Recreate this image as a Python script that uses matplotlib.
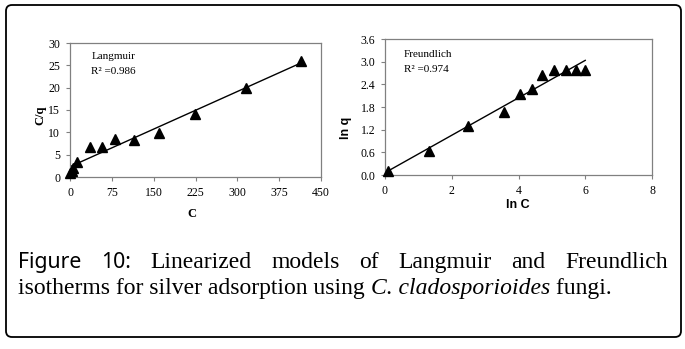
import numpy as np
import matplotlib
matplotlib.use("Agg")
import matplotlib.pyplot as plt
from matplotlib.patches import FancyBboxPatch
from matplotlib.transforms import IdentityTransform

# Langmuir: C vs C/q
lang_c = [0.5, 3, 6, 12, 36, 57, 81, 115, 159, 224, 316, 414]
lang_cq = [0.8, 1.3, 2.1, 3.3, 6.7, 6.7, 8.6, 8.2, 9.9, 14.0, 20.0, 26.0]

# Freundlich: ln C vs ln q
fr_lnc = [0.1, 1.31, 2.48, 3.58, 4.03, 4.4, 4.7, 5.06, 5.41, 5.73, 6.0]
fr_lnq = [0.1, 0.63, 1.31, 1.67, 2.15, 2.28, 2.66, 2.77, 2.77, 2.77, 2.77]

lang_xticks = [0, 75, 150, 225, 300, 375, 450]
lang_yticks = [0, 5, 10, 15, 20, 25, 30]
fr_xticks = [0, 2, 4, 6, 8]
fr_yticks = [0.0, 0.6, 1.2, 1.8, 2.4, 3.0, 3.6]

W, H = 685, 349
fig = plt.figure(figsize=(W / 100, H / 100), dpi=100)
serif = "Liberation Serif"


def px(x0, y0, x1, y1):
    # pixel box (top-left origin) -> figure fraction rect
    return [x0 / W, 1 - y1 / H, (x1 - x0) / W, (y1 - y0) / H]


def style(ax, xt, yt, xfmt, yfmt):
    for s in ax.spines.values():
        s.set_color("#808080")
        s.set_linewidth(0.9)
    ax.set_xticks(xt)
    ax.set_yticks(yt)
    ax.set_xticklabels([xfmt.format(v) for v in xt], fontfamily=serif, fontsize=8.5)
    ax.set_yticklabels([yfmt.format(v) for v in yt], fontfamily=serif, fontsize=8.5)
    ax.tick_params(direction="out", length=3, width=0.8, color="#808080", pad=4)
    ax.set_xlim(xt[0], xt[-1])
    ax.set_ylim(yt[0], yt[-1])


def fit_line(ax, x, y):
    k, b = np.polyfit(x, y, 1)
    xs = np.array([min(x), max(x)])
    ax.plot(xs, k * xs + b, color="black", lw=1.0, zorder=2)


# left panel
ax1 = fig.add_axes(px(70, 43, 321, 177))
ax1.plot(lang_c, lang_cq, "^", color="black", ms=7, zorder=3, clip_on=False)
fit_line(ax1, lang_c, lang_cq)
style(ax1, lang_xticks, lang_yticks, "{:d}", "{:d}")
ax1.text(0.085, 0.93, "Langmuir", transform=ax1.transAxes, fontfamily=serif,
         fontsize=8, va="top")
ax1.text(0.085, 0.82, "R² =0.986", transform=ax1.transAxes, fontfamily=serif,
         fontsize=8, va="top")
fig.text(192 / W, 1 - 214 / H, "C", fontfamily=serif, fontweight="bold",
         fontsize=9, ha="center", va="center")
fig.text(40 / W, 1 - 115 / H, "C/q", fontfamily=serif, fontweight="bold",
         fontsize=9, ha="center", va="center", rotation=90)

# right panel
ax2 = fig.add_axes(px(385, 39, 652, 175))
ax2.plot(fr_lnc, fr_lnq, "^", color="black", ms=7, zorder=3, clip_on=False)
fit_line(ax2, fr_lnc, fr_lnq)
style(ax2, fr_xticks, fr_yticks, "{:d}", "{:.1f}")
ax2.text(0.07, 0.92, "Freundlich", transform=ax2.transAxes, fontfamily=serif,
         fontsize=8, va="top")
ax2.text(0.07, 0.81, "R² =0.974", transform=ax2.transAxes, fontfamily=serif,
         fontsize=8, va="top")
fig.text(518 / W, 1 - 205 / H, "ln C", fontfamily="Liberation Sans",
         fontweight="bold", fontsize=9, ha="center", va="center")
fig.text(346 / W, 1 - 128 / H, "ln q", fontfamily="Liberation Sans",
         fontweight="bold", fontsize=9, ha="center", va="center", rotation=90)

# outer frame
frame = FancyBboxPatch((6, H - 337), 675, 332,
                       boxstyle="round,pad=0,rounding_size=6",
                       transform=IdentityTransform(), fill=False,
                       edgecolor="black", lw=1.3)
fig.patches.append(frame)

# caption (first line justified)
fig.canvas.draw()
r = fig.canvas.get_renderer()


def width(t):
    return t.get_window_extent(renderer=r).width


size = 17
line1 = [("Figure", "Noto Sans", "normal"), ("10:", "Noto Sans", "normal"),
         ("Linearized", serif, "normal"), ("models", serif, "normal"),
         ("of", serif, "normal"), ("Langmuir", serif, "normal"),
         ("and", serif, "normal"), ("Freundlich", serif, "normal")]
left, right = 18, 668
base1, base2 = 268, 294

words = []
for w, fam, st in line1:
    fs = size * 0.9 if fam == "Noto Sans" else size
    t = fig.text(0, 0, w, fontfamily=fam, fontstyle=st, fontsize=fs,
                 va="baseline", transform=IdentityTransform())
    words.append(t)
fig.canvas.draw()
widths = [width(t) for t in words]
gap = (right - left - sum(widths)) / (len(words) - 1)
x = left
for t, wd in zip(words, widths):
    t.set_position((x, H - base1))
    x += wd + gap

line2 = [("isotherms for silver adsorption using ", "normal"),
         ("C. cladosporioides", "italic"), (" fungi.", "normal")]
x = left
for s, st in line2:
    t = fig.text(x, H - base2, s, fontfamily=serif, fontstyle=st, fontsize=size,
                 va="baseline", transform=IdentityTransform())
    fig.canvas.draw()
    x += width(t)

fig.savefig("out.png", dpi=100)
